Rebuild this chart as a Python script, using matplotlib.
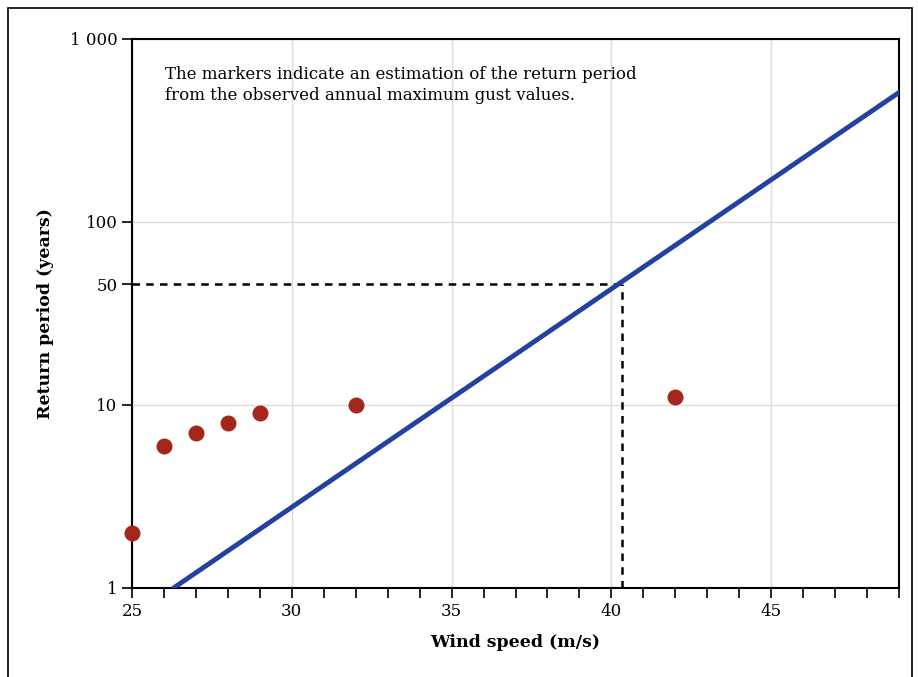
import matplotlib.pyplot as plt
from matplotlib.patches import Rectangle
from matplotlib.ticker import FixedLocator, MultipleLocator, NullLocator

# observed annual maximum gusts (estimated return period)
obs_speed = [25, 26, 27, 28, 29, 32, 42]
obs_period = [2, 6, 7, 8, 9, 10, 11]

# fitted return period line
fit_speed = [26.3, 49]
fit_period = [1, 510]

# "50-year" return level, as drawn in the original (sits a bit below 50 on the log axis)
rl_speed = 40.33
rl_period = 45.7

yticks = [1, 10, rl_period, 100, 1000]
yticklabels = ['1', '10', '50', '100', '1 000']

plt.rcParams['font.family'] = ['DejaVu Serif']

fig = plt.figure(figsize=(9.18, 6.77), dpi=100)
ax = fig.add_axes([0.1438, 0.1315, 0.8355, 0.811])

# outer frame
fig.patches.append(Rectangle((8 / 918, -0.05), 904 / 918, 1.05 - 8 / 677,
                             transform=fig.transFigure, fill=False,
                             edgecolor='black', linewidth=1.2))

ax.set_yscale('log')
ax.set_xlim(25, 49)
ax.set_ylim(1, 1000)

ax.plot(fit_speed, fit_period, color='#2342a0', linewidth=3.5,
        solid_capstyle='round', zorder=3)
ax.scatter(obs_speed, obs_period, s=110, color='#a3251b', zorder=4,
           clip_on=False)

ax.plot([25, rl_speed], [rl_period, rl_period], color='black',
        linestyle=(0, (3, 2.5)), linewidth=1.8, zorder=2)
ax.plot([rl_speed, rl_speed], [1, rl_period], color='black',
        linestyle=(0, (3, 2.5)), linewidth=1.8, zorder=2)

ax.yaxis.set_major_locator(FixedLocator(yticks))
ax.yaxis.set_minor_locator(NullLocator())
ax.set_yticklabels(yticklabels)
ax.xaxis.set_major_locator(MultipleLocator(5))
ax.xaxis.set_minor_locator(MultipleLocator(1))

ax.grid(True, which='major', color='#dcdcdc', linewidth=1.0, zorder=0)
ax.set_axisbelow(True)
# no gridline for the 50-year tick
ax.get_ygridlines()[yticks.index(rl_period)].set_visible(False)

ax.tick_params(axis='both', which='major', labelsize=12, length=7,
               width=1.2, direction='out', color='black')
ax.tick_params(axis='x', which='minor', length=7, width=1.2)
for s in ax.spines.values():
    s.set_linewidth(1.5)

ax.set_xlabel('Wind speed (m/s)', fontsize=12.5, fontweight='bold')
ax.set_ylabel('Return period (years)', fontsize=12.5, fontweight='bold')
ax.xaxis.set_label_coords(0.5, -0.084)
ax.yaxis.set_label_coords(-0.102, 0.5)

ax.text(0.043, 0.95, 'The markers indicate an estimation of the return period\n'
        'from the observed annual maximum gust values.',
        transform=ax.transAxes, fontsize=12, va='top', ha='left',
        linespacing=1.3)

fig.savefig('out.png', dpi=100)
